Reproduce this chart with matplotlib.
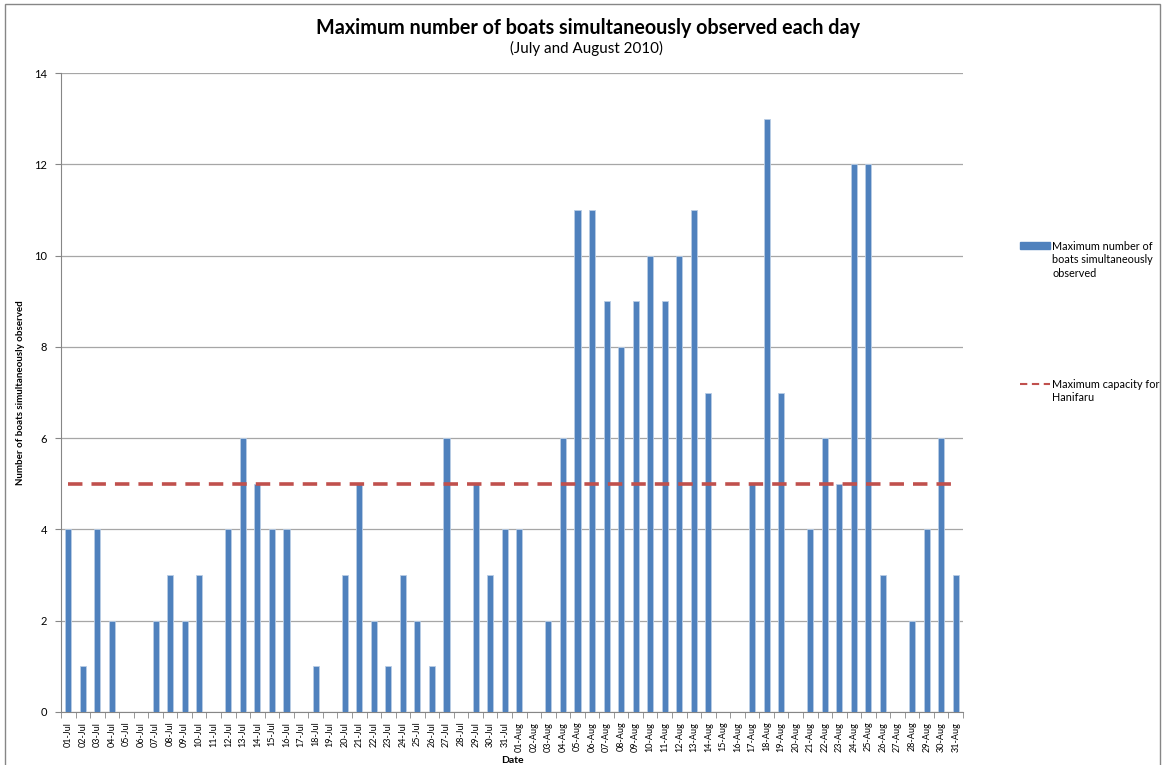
import matplotlib.pyplot as plt
from matplotlib.patches import Rectangle, Patch
from matplotlib.lines import Line2D

# daily maximum number of boats, July and August 2010
jul_days = ['%02d-Jul' % d for d in range(1, 32)]
aug_days = ['%02d-Aug' % d for d in range(1, 32)]
dates = jul_days + aug_days

jul_boats = [4, 1, 4, 2, 0, 0, 2, 3, 2, 3, 0, 4, 6, 5, 4, 4, 0, 1, 0, 3, 5, 2, 1, 3, 2, 1, 6, 0, 5, 3, 4]
aug_boats = [4, 0, 2, 6, 11, 11, 9, 8, 9, 10, 9, 10, 11, 7, 0, 0, 5, 13, 7, 0, 4, 6, 5, 12, 12, 3, 0, 2, 4, 6, 3]
boats = jul_boats + aug_boats

capacity = [5] * len(dates)

plt.rcParams['font.family'] = ['Lato', 'DejaVu Sans']

fig = plt.figure(figsize=(11.63, 7.65), dpi=100)
ax = fig.add_axes([61 / 1163, 53 / 765, 902 / 1163, 639 / 765])

x = list(range(len(dates)))
ax.bar(x, boats, width=0.42, color='#4F81BD', edgecolor='#B9CDE5', linewidth=0.6, zorder=3)
ax.plot(x, capacity, color='#C0504D', linestyle=(0, (4, 2.5)), linewidth=2.6, zorder=4)

ax.set_xlim(-0.5, len(dates) - 0.5)
ax.set_ylim(0, 14)
ax.set_yticks(range(0, 15, 2))
ax.tick_params(axis='y', labelsize=8, length=4, color='#868686', pad=6)
ax.yaxis.grid(True, color='#A6A6A6', linewidth=0.9, zorder=0)

ax.set_xticks(x)
ax.set_xticklabels(dates, rotation=90, fontsize=6.5)
ax.set_xticks([i - 0.5 for i in range(len(dates) + 1)], minor=True)
ax.tick_params(axis='x', which='major', length=0, pad=7)
ax.tick_params(axis='x', which='minor', length=4, color='#868686')

for side in ['top', 'right']:
    ax.spines[side].set_visible(False)
for side in ['left', 'bottom']:
    ax.spines[side].set_color('#868686')

ax.set_ylabel('Number of boats simultaneously observed', fontsize=7, fontweight='bold')
ax.yaxis.set_label_coords(-0.04, 0.5)
ax.set_xlabel('Date', fontsize=7.5, fontweight='bold', labelpad=3)

fig.text(588 / 1163, 1 - 28 / 765, 'Maximum number of boats simultaneously observed each day',
         ha='center', va='center', fontsize=14.2, fontweight='bold')
fig.text(586 / 1163, 1 - 48 / 765, '(July and August 2010)', ha='center', va='center', fontsize=10.9)

# legend: handles sit on the first line of each entry, as in the original
handles = [Patch(color='#4F81BD'),
           Line2D([], [], color='#C0504D', linestyle=(0, (3.5, 2.2)), linewidth=1.5)]
labels = ['Maximum number of', 'Maximum capacity for']
leg = fig.legend(handles, labels, loc='upper left', bbox_to_anchor=(1010 / 1163, 1 - 231 / 765),
                 frameon=False, fontsize=7.8, labelspacing=11.7, handlelength=2.8,
                 handletextpad=0.2, handleheight=0.6)

# remaining lines of each legend label, hung under the first line
fig.canvas.draw()
W, H = fig.bbox.width, fig.bbox.height
more_lines = [(0, ['boats simultaneously', 'observed']), (1, ['Hanifaru'])]
for idx, lines in more_lines:
    bb = leg.get_texts()[idx].get_window_extent()
    for k, txt in enumerate(lines):
        fig.text(bb.x0 / W, (bb.y0 - 13.5 * (k + 1)) / H, txt,
                 ha='left', va='bottom', fontsize=7.8)

fig.patches.append(Rectangle((5 / 1163, -0.01), 1155 / 1163, 1 - 4 / 765 + 0.01,
                             transform=fig.transFigure, fill=False, edgecolor='#868686',
                             linewidth=1))

fig.savefig('out.png', dpi=100)
